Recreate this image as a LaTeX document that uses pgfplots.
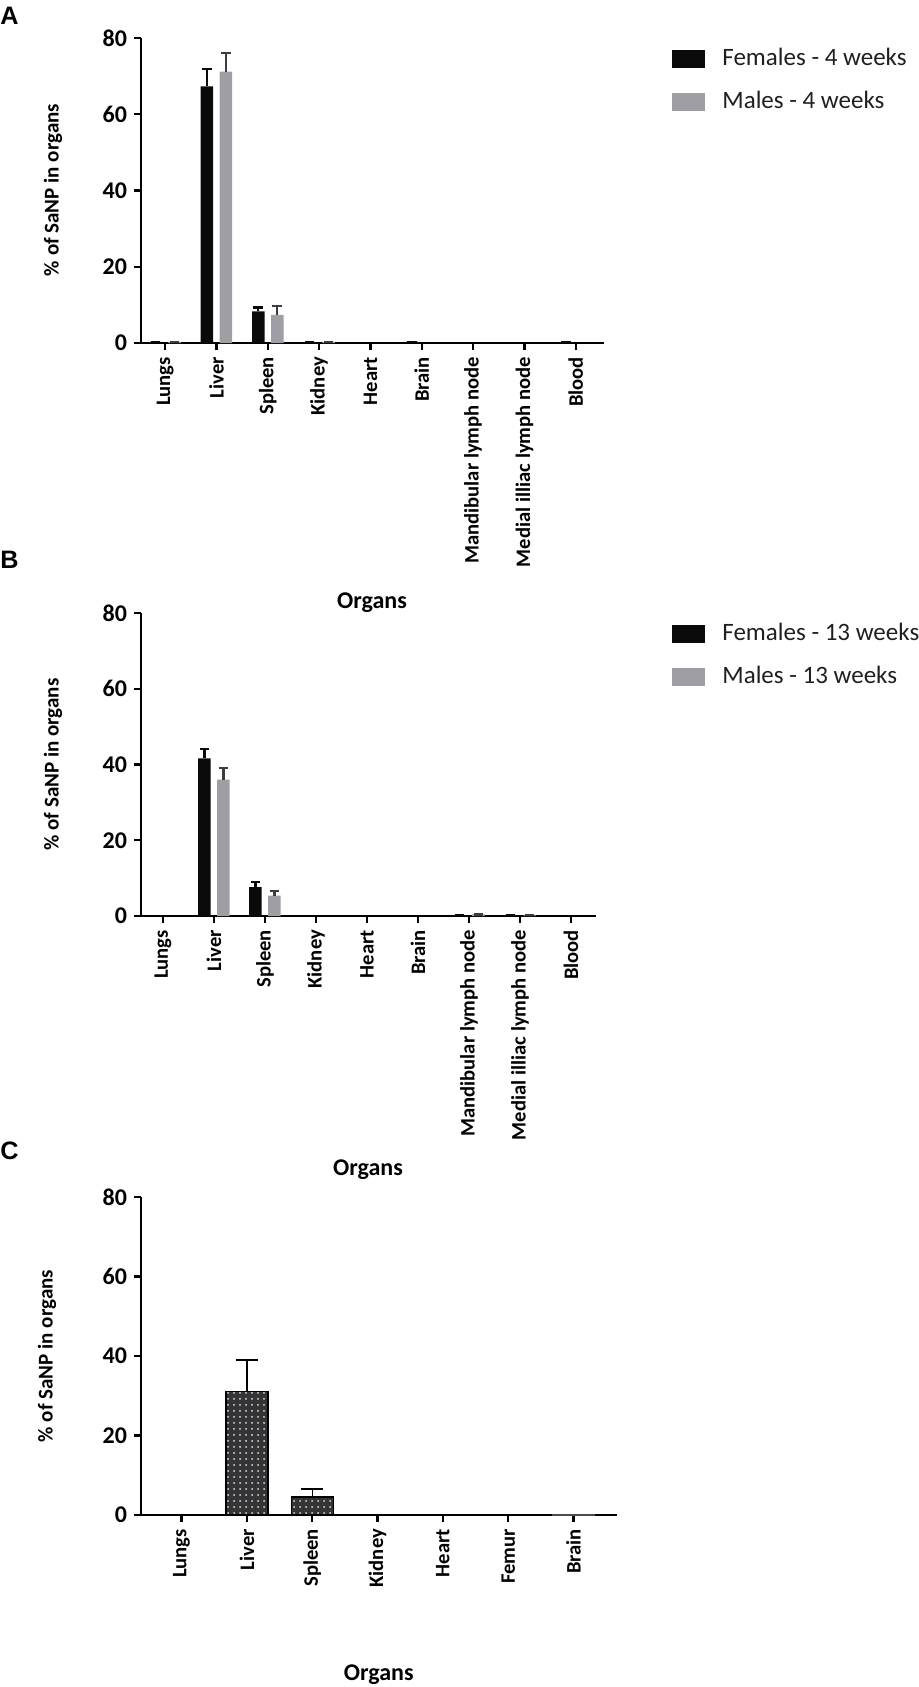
\documentclass[border=0pt]{standalone}
\usepackage{fontspec}
\setmainfont{Carlito}
\newfontfamily\arialfont{Liberation Sans}
\usepackage{pgfplots}
\usepackage{pgfplotstable}
\pgfplotsset{compat=1.18}
\usetikzlibrary{patterns}

\definecolor{fem}{RGB}{10,10,10}
\definecolor{mal}{RGB}{158,158,164}
\definecolor{malerr}{RGB}{60,60,64}
\definecolor{cbar}{RGB}{52,52,54}

% x: category index, y: mean, e: upper error
\pgfplotstableread{
x y e
0 0.3 0.0
1 67.3 4.6
2 8.3 1.0
3 0.2 0.0
5 0.3 0.0
8 0.2 0.0
}\AFem
\pgfplotstableread{
x y e
0 0.3 0.0
1 71.2 4.8
2 7.4 2.3
3 0.3 0.0
}\AMal
\pgfplotstableread{
x y e
1 41.6 2.6
2 7.6 1.4
6 0.2 0.0
7 0.2 0.0
}\BFem
\pgfplotstableread{
x y e
1 36.0 3.0
2 5.4 1.3
6 0.4 0.0
7 0.2 0.0
}\BMal
\pgfplotstableread{
x y e
1 31.0 8.0
2 4.5 2.0
}\CMain
\pgfplotstableread{
x y
6 0.2
}\CSmall

\pgfplotsset{
  organstyle/.style={
    scale only axis,
    anchor=south west,
    axis x line*=bottom,
    axis y line*=left,
    axis line style={line width=1.3pt, black},
    ymin=0, ymax=80, ytick={0,20,40,60,80},
    tick align=outside,
    major tick length=3.5pt,
    tick style={line width=1.2pt, black},
    /pgf/number format/assume math mode=true,
    yticklabel style={font=\bfseries\fontsize{12}{14}\selectfont},
    xticklabel style={rotate=90, anchor=east, font=\bfseries\fontsize{10.3}{12}\selectfont},
    clip=false,
    legend cell align=left,
    legend style={at={(1,1)}, anchor=north west, yshift=-4.5pt,
      draw=none, fill=none, inner sep=0pt, row sep=9.5pt,
      font=\fontsize{12.5}{14}\selectfont,
      nodes={inner sep=0pt, text height=9pt, text depth=3pt, text=black!88}},
  },
  grouped/.style={ybar=3.25pt, bar width=6.25pt},
  boxlegend/.style={
    legend image code/.code={
      \fill[##1, draw=none] (0pt,-4.5pt) rectangle (16.5pt,4.5pt);
      \path[draw=none, fill=none] (0pt,0pt) rectangle (25pt,0.1pt);
    }},
  fbar/.style={fill=fem, draw=none, boxlegend,
    error bars/.cd, y dir=plus, y explicit, error mark=-,
    error bar style={line width=1.1pt, fem},
    error mark options={rotate=90, line width=1.1pt, mark size=2.4pt, fem}},
  mbar/.style={fill=mal, draw=none, boxlegend,
    error bars/.cd, y dir=plus, y explicit, error mark=-,
    error bar style={line width=1.1pt, malerr},
    error mark options={rotate=90, line width=1.1pt, mark size=2.4pt, malerr}},
}

\begin{document}
\begin{tikzpicture}
\path[use as bounding box] (0pt,0pt) rectangle (459pt,-843.5pt);

% ---------------- Panel A ----------------
\begin{axis}[organstyle, grouped,
  at={(70.5pt,-171.5pt)},
  width=231.5pt, height=152.5pt,
  xmin=-0.47, xmax=8.55,
  xtick={0,1,2,3,4,5,6,7,8},
  xticklabels={Lungs,Liver,Spleen,Kidney,Heart,Brain,Mandibular lymph node,Medial illiac lymph node,Blood},
  legend style={xshift=34pt},
]
\addplot[fbar] table[x=x, y=y, y error=e] {\AFem};
\addlegendentry{Females - 4 weeks}
\addplot[mbar] table[x=x, y=y, y error=e] {\AMal};
\addlegendentry{Males - 4 weeks}
\end{axis}

% ---------------- Panel B ----------------
\begin{axis}[organstyle, grouped,
  at={(70.5pt,-458pt)},
  width=227.5pt, height=151.5pt,
  xmin=-0.43, xmax=8.49,
  xtick={0,1,2,3,4,5,6,7,8},
  xticklabels={Lungs,Liver,Spleen,Kidney,Heart,Brain,Mandibular lymph node,Medial illiac lymph node,Blood},
  legend style={xshift=38pt},
]
\addplot[fbar] table[x=x, y=y, y error=e] {\BFem};
\addlegendentry{Females - 13 weeks}
\addplot[mbar] table[x=x, y=y, y error=e] {\BMal};
\addlegendentry{Males - 13 weeks}
\end{axis}

% ---------------- Panel C ----------------
\begin{axis}[organstyle,
  at={(70.5pt,-757.5pt)},
  width=237.85pt, height=159pt,
  xmin=-0.62, xmax=6.66,
  xtick={0,1,2,3,4,5,6},
  xticklabels={Lungs,Liver,Spleen,Kidney,Heart,Femur,Brain},
]
\addplot[ybar, bar width=21pt, bar shift=0pt, fill=cbar, draw=black, line width=0.7pt,
  postaction={pattern=dots, pattern color=white!75!gray},
  error bars/.cd, y dir=plus, y explicit, error mark=-,
  error bar style={line width=0.7pt, black},
  error mark options={rotate=90, line width=0.7pt, mark size=5.5pt, black}]
  table[x=x, y=y, y error=e] {\CMain};
\addplot[ybar, bar width=21pt, bar shift=0pt, fill=cbar, draw=black!70, line width=0.5pt]
  table[x=x, y=y] {\CSmall};
\end{axis}

% panel letters
\node[font=\arialfont\bfseries\fontsize{12.6}{14}\selectfont, anchor=north west, inner sep=0pt] at (0pt,-3.5pt) {A};
\node[font=\arialfont\bfseries\fontsize{12.6}{14}\selectfont, anchor=north west, inner sep=0pt] at (0pt,-275.5pt) {B};
\node[font=\arialfont\bfseries\fontsize{12.6}{14}\selectfont, anchor=north west, inner sep=0pt] at (0pt,-570.5pt) {C};

% y labels
\node[rotate=90, font=\bfseries\fontsize{10.5}{12}\selectfont, inner sep=0pt] at (26.5pt,-95pt) {\% of SaNP in organs};
\node[rotate=90, font=\bfseries\fontsize{10.5}{12}\selectfont, inner sep=0pt] at (26.5pt,-382.25pt) {\% of SaNP in organs};
\node[rotate=90, font=\bfseries\fontsize{10.5}{12}\selectfont, inner sep=0pt] at (23.5pt,-678pt) {\% of SaNP in organs};

% x labels
\node[font=\bfseries\fontsize{12}{14}\selectfont, inner sep=0pt] at (186pt,-301.5pt) {Organs};
\node[font=\bfseries\fontsize{12}{14}\selectfont, inner sep=0pt] at (184pt,-585pt) {Organs};
\node[font=\bfseries\fontsize{12}{14}\selectfont, inner sep=0pt] at (189.4pt,-837.5pt) {Organs};
\end{tikzpicture}
\end{document}
